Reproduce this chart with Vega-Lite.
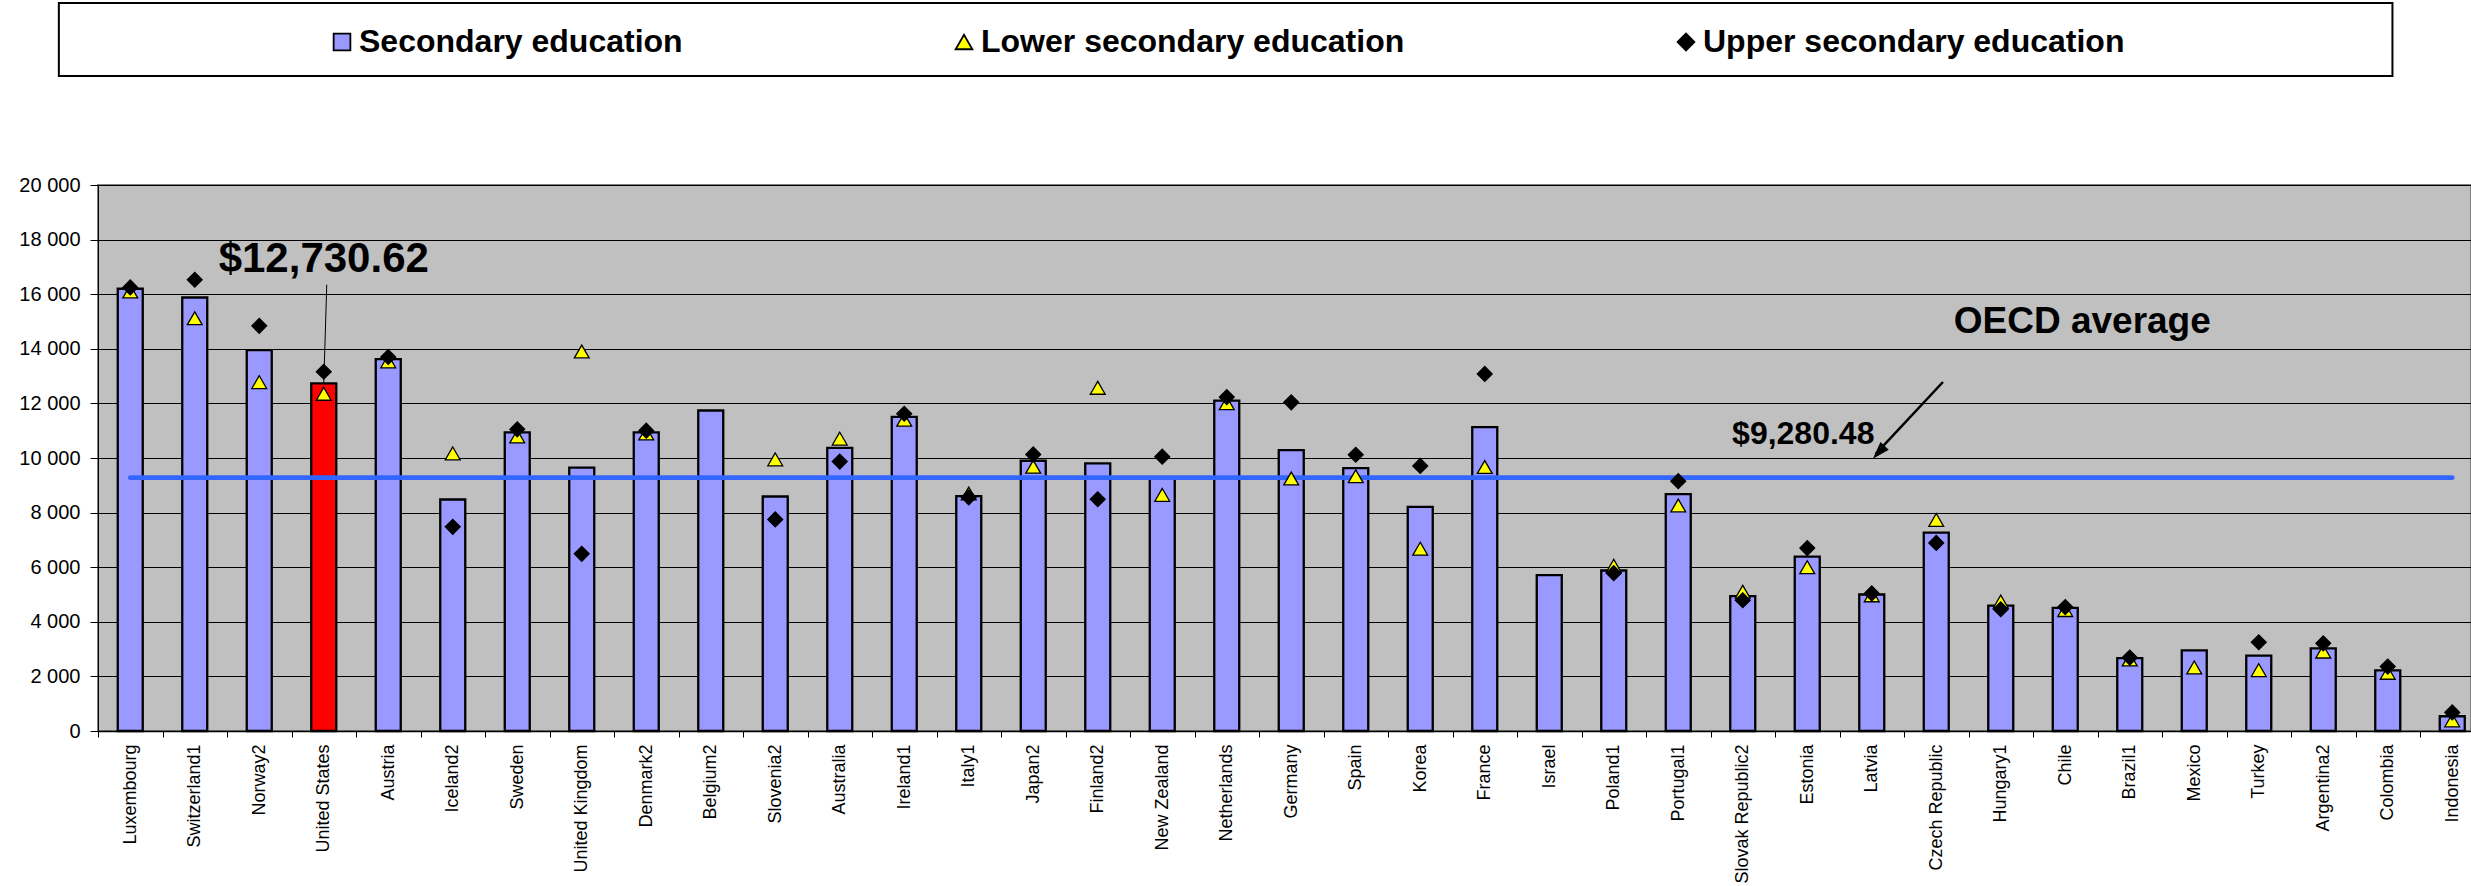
{
  "$schema": "https://vega.github.io/schema/vega-lite/v6.json",
  "width": 2373,
  "height": 546,
  "autosize": {"type": "none"},
  "padding": {"left": 98, "top": 185, "right": 0, "bottom": 155},
  "background": "white",
  "config": {
    "view": {"fill": "#C0C0C0", "stroke": "#808080", "strokeWidth": 2},
    "font": "Liberation Sans",
    "legend": {"symbolStrokeColor": "black", "symbolStrokeWidth": 1.8}
  },
  "data": {"values": [
    {"country": "Luxembourg", "secondary": 16200, "lower": 16100, "upper": 16250},
    {"country": "Switzerland1", "secondary": 15880, "lower": 15120, "upper": 16530},
    {"country": "Norway2", "secondary": 13950, "lower": 12780, "upper": 14840},
    {"country": "United States", "secondary": 12730.62, "lower": 12350, "upper": 13160},
    {"country": "Austria", "secondary": 13620, "lower": 13540, "upper": 13700},
    {"country": "Iceland2", "secondary": 8480, "lower": 10170, "upper": 7480},
    {"country": "Sweden", "secondary": 10940, "lower": 10790, "upper": 11050},
    {"country": "United Kingdom", "secondary": 9650, "lower": 13900, "upper": 6490},
    {"country": "Denmark2", "secondary": 10940, "lower": 10900, "upper": 11000},
    {"country": "Belgium2", "secondary": 11740, "lower": null, "upper": null},
    {"country": "Slovenia2", "secondary": 8590, "lower": 9950, "upper": 7750},
    {"country": "Australia", "secondary": 10370, "lower": 10710, "upper": 9870},
    {"country": "Ireland1", "secondary": 11510, "lower": 11400, "upper": 11620},
    {"country": "Italy1", "secondary": 8600, "lower": 8700, "upper": 8560},
    {"country": "Japan2", "secondary": 9900, "lower": 9680, "upper": 10130},
    {"country": "Finland2", "secondary": 9800, "lower": 12570, "upper": 8490},
    {"country": "New Zealand", "secondary": 9260, "lower": 8650, "upper": 10050},
    {"country": "Netherlands", "secondary": 12100, "lower": 12010, "upper": 12230},
    {"country": "Germany", "secondary": 10290, "lower": 9250, "upper": 12040},
    {"country": "Spain", "secondary": 9630, "lower": 9330, "upper": 10120},
    {"country": "Korea", "secondary": 8210, "lower": 6680, "upper": 9710},
    {"country": "France", "secondary": 11130, "lower": 9670, "upper": 13080},
    {"country": "Israel", "secondary": 5710, "lower": null, "upper": null},
    {"country": "Poland1", "secondary": 5880, "lower": 6050, "upper": 5780},
    {"country": "Portugal1", "secondary": 8680, "lower": 8260, "upper": 9150},
    {"country": "Slovak Republic2", "secondary": 4940, "lower": 5100, "upper": 4790},
    {"country": "Estonia", "secondary": 6390, "lower": 6000, "upper": 6700},
    {"country": "Latvia", "secondary": 5000, "lower": 4970, "upper": 5040},
    {"country": "Czech Republic", "secondary": 7270, "lower": 7730, "upper": 6890},
    {"country": "Hungary1", "secondary": 4590, "lower": 4740, "upper": 4460},
    {"country": "Chile", "secondary": 4510, "lower": 4430, "upper": 4540},
    {"country": "Brazil1", "secondary": 2670, "lower": 2620, "upper": 2690},
    {"country": "Mexico", "secondary": 2950, "lower": 2330, "upper": null},
    {"country": "Turkey", "secondary": 2760, "lower": 2230, "upper": 3250},
    {"country": "Argentina2", "secondary": 3030, "lower": 2910, "upper": 3210},
    {"country": "Colombia", "secondary": 2220, "lower": 2130, "upper": 2360},
    {"country": "Indonesia", "secondary": 540, "lower": 390, "upper": 680}
  ]},
  "encoding": {
    "x": {
      "field": "country", "type": "nominal", "sort": null,
      "scale": {"range": [0, 2386.5], "paddingInner": 0, "paddingOuter": 0},
      "axis": {
        "title": null, "labelAngle": -90, "labelFont": "Liberation Sans", "labelFontSize": 18,
        "labelColor": "black", "labelPadding": 7, "tickBand": "extent", "tickSize": 6,
        "tickColor": "black", "domainColor": "black", "domainWidth": 1.5, "grid": false,
        "labelLimit": 300
      }
    }
  },
  "layer": [
    {
      "mark": {"type": "bar", "width": 25, "stroke": "black", "strokeWidth": 2.3},
      "encoding": {
        "y": {
          "field": "secondary", "type": "quantitative",
          "scale": {"domain": [0, 20000], "nice": false, "zero": true},
          "axis": {
            "title": null, "values": [0, 2000, 4000, 6000, 8000, 10000, 12000, 14000, 16000, 18000, 20000],
            "labelExpr": "replace(format(datum.value, ','), ',', ' ')",
            "labelFont": "Liberation Sans", "labelFontSize": 20, "labelColor": "black",
            "labelPadding": 10, "tickSize": 8, "tickColor": "black", "domainColor": "black",
            "gridColor": "black", "gridWidth": 1, "grid": true
          }
        },
        "fill": {
          "condition": {"test": "datum.country === 'United States'", "value": "#FF0000"},
          "value": "#9999FF"
        }
      }
    },
    {
      "data": {"values": [{}]},
      "mark": {"type": "rect", "fill": null, "stroke": "black", "strokeWidth": 2, "xOffset": -71.4, "x2Offset": -59.8},
      "encoding": {
        "x": {"datum": "Luxembourg"},
        "x2": {"datum": "Indonesia"},
        "y": {"datum": 26667},
        "y2": {"datum": 23993}
      }
    },
    {
      "data": {"values": [{}]},
      "mark": {"type": "rule", "color": "#3366FF", "strokeWidth": 4.7, "strokeCap": "round"},
      "encoding": {
        "x": {"datum": "Luxembourg"},
        "x2": {"datum": "Indonesia"},
        "y": {"datum": 9280.48}
      }
    },
    {
      "data": {"values": [{}]},
      "mark": {"type": "rule", "color": "black", "strokeWidth": 1, "x2Offset": 3},
      "encoding": {
        "x": {"datum": "United States"},
        "x2": {"datum": "United States"},
        "y": {"datum": 12730.62},
        "y2": {"datum": 16348}
      }
    },
    {
      "transform": [
        {"fold": ["lower", "upper"], "as": ["key", "val"]},
        {"filter": "isValid(datum.val)"},
        {"calculate": "datum.key === 'lower' ? 'Lower secondary education' : 'Upper secondary education'", "as": "series"}
      ],
      "mark": {"type": "point", "filled": true, "strokeWidth": 1.3, "opacity": 1, "size": 220},
      "encoding": {
        "y": {"field": "val", "type": "quantitative"},
        "fill": {
          "field": "series", "type": "nominal",
          "scale": {
            "domain": ["Secondary education", "Lower secondary education", "Upper secondary education"],
            "range": ["#9999FF", "#FFFF00", "#000000"]
          },
          "legend": {
            "title": null, "orient": "none", "direction": "horizontal",
            "legendX": 228, "legendY": -159, "padding": 0,
            "columnPadding": 265, "labelOffset": 1,
            "labelFont": "Liberation Sans", "labelFontWeight": "bold", "labelFontSize": 32,
            "labelColor": "black", "labelLimit": 1000, "symbolSize": 280,
            "symbolStrokeWidth": 1.8
          }
        },
        "stroke": {
          "field": "series", "type": "nominal",
          "scale": {
            "domain": ["Secondary education", "Lower secondary education", "Upper secondary education"],
            "range": ["#000000", "#000000", "#000000"]
          },
          "legend": {
            "title": null, "orient": "none", "direction": "horizontal",
            "legendX": 228, "legendY": -159, "padding": 0,
            "columnPadding": 265, "labelOffset": 1,
            "labelFont": "Liberation Sans", "labelFontWeight": "bold", "labelFontSize": 32,
            "labelColor": "black", "labelLimit": 1000, "symbolSize": 280,
            "symbolStrokeWidth": 1.8
          }
        },
        "shape": {
          "field": "series", "type": "nominal",
          "scale": {
            "domain": ["Secondary education", "Lower secondary education", "Upper secondary education"],
            "range": ["square", "triangle-up", "diamond"]
          },
          "legend": {
            "title": null, "orient": "none", "direction": "horizontal",
            "legendX": 228, "legendY": -159, "padding": 0,
            "columnPadding": 265, "labelOffset": 1,
            "labelFont": "Liberation Sans", "labelFontWeight": "bold", "labelFontSize": 32,
            "labelColor": "black", "labelLimit": 1000, "symbolSize": 280,
            "symbolStrokeWidth": 1.8
          }
        }
      }
    },
    {
      "data": {"values": [{}]},
      "mark": {"type": "text", "font": "Liberation Sans", "fontWeight": "bold", "fontSize": 42, "align": "center", "baseline": "alphabetic", "color": "black"},
      "encoding": {
        "x": {"datum": "United States"},
        "y": {"datum": 16813},
        "text": {"value": "$12,730.62"}
      }
    },
    {
      "data": {"values": [{}]},
      "mark": {"type": "text", "font": "Liberation Sans", "fontWeight": "bold", "fontSize": 37, "align": "center", "baseline": "alphabetic", "color": "black", "dx": 17},
      "encoding": {
        "x": {"datum": "Chile"},
        "y": {"datum": 14579},
        "text": {"value": "OECD average"}
      }
    },
    {
      "data": {"values": [{}]},
      "mark": {"type": "text", "font": "Liberation Sans", "fontWeight": "bold", "fontSize": 32, "align": "center", "baseline": "alphabetic", "color": "black", "dx": -4},
      "encoding": {
        "x": {"datum": "Estonia"},
        "y": {"datum": 10513},
        "text": {"value": "$9,280.48"}
      }
    },
    {
      "data": {"values": [{}]},
      "mark": {"type": "rule", "color": "black", "strokeWidth": 2.5, "xOffset": 6.7, "x2Offset": 4},
      "encoding": {
        "x": {"datum": "Czech Republic"},
        "y": {"datum": 12784},
        "x2": {"datum": "Latvia"},
        "y2": {"datum": 10150}
      }
    },
    {
      "data": {"values": [{}]},
      "mark": {"type": "point", "shape": "M0,-1L-0.65,1L0.65,1Z", "angle": 222.6, "size": 300, "filled": true, "color": "black", "opacity": 1, "xOffset": 7},
      "encoding": {
        "x": {"datum": "Latvia"},
        "y": {"datum": 10209}
      }
    }
  ]
}
